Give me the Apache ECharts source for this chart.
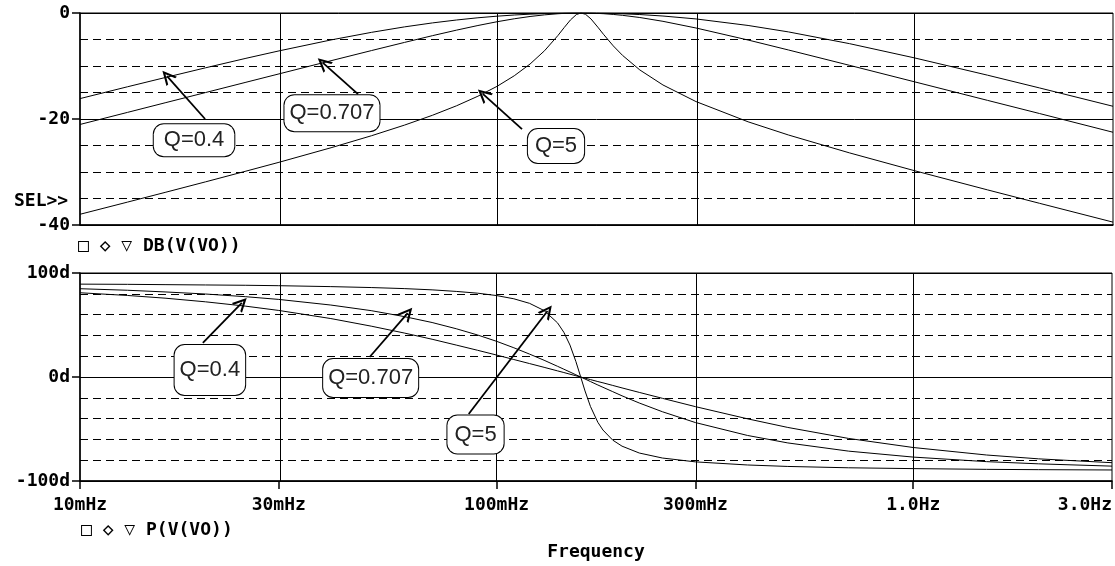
<!DOCTYPE html>
<html><head><meta charset="utf-8">
<script src="https://cdn.jsdelivr.net/npm/echarts@6/dist/echarts.min.js"></script>
<style>html,body{margin:0;padding:0;background:#fff}#c{width:1115px;height:566px}</style>
</head><body><div id="c"></div>
<script>
// ---- data (frequencies in Hz) ----
const freqHz = [0.010,0.013,0.016,0.020,0.025,0.030,0.040,0.050,0.060,0.070,0.080,0.090,
  0.100,0.110,0.120,0.130,0.140,0.145,0.150,0.155,0.159,0.163,0.168,0.175,0.180,0.190,0.200,
  0.220,0.250,0.300,0.400,0.500,0.700,1.000,1.500,2.000,3.000];
const seriesNames = ['Q=0.4','Q=0.707','Q=5'];
// DB(V(VO))
const dbQ04 = [-16.15,-13.92,-12.18,-10.34,-8.55,-7.15,-5.08,-3.65,-2.62,-1.87,-1.32,-0.90,
  -0.60,-0.38,-0.22,-0.11,-0.05,-0.02,-0.01,0,0,0,-0.01,-0.03,-0.04,-0.09,-0.15,
  -0.29,-0.57,-1.12,-2.35,-3.57,-5.78,-8.45,-11.73,-14.14,-17.60];
const dbQ0707 = [-21.03,-18.75,-16.94,-15.01,-13.07,-11.49,-9.00,-7.09,-5.55,-4.28,-3.23,-2.36,
  -1.65,-1.09,-0.66,-0.35,-0.14,-0.07,-0.03,-0.01,0,0,-0.03,-0.08,-0.13,-0.27,-0.44,
  -0.85,-1.57,-2.83,-5.10,-6.98,-9.87,-12.96,-16.48,-18.97,-22.50];
const dbQ5 = [-37.98,-35.68,-33.85,-31.86,-29.84,-28.17,-25.42,-23.16,-21.15,-19.30,-17.50,-15.70,
  -13.84,-11.84,-9.63,-7.12,-4.24,-2.72,-1.31,-0.29,0,-0.24,-1.12,-2.80,-4.02,-6.20,-8.00,
  -10.74,-13.58,-16.71,-20.53,-23.02,-26.39,-29.73,-33.37,-35.91,-39.46];
// P(V(VO)) in degrees
const phQ04 = [81.0,78.4,75.8,72.3,68.1,64.0,56.2,48.9,42.3,36.3,30.7,25.7,
  21.1,16.8,12.9,9.3,5.9,4.3,2.7,1.2,0.0,-1.1,-2.5,-4.4,-5.6,-8.1,-10.5,
  -14.8,-20.5,-28.5,-40.2,-48.5,-59.1,-67.8,-75.0,-78.7,-82.4];
const phQ0707 = [84.9,83.4,81.8,79.8,77.2,74.6,69.2,63.8,58.1,52.4,46.4,40.4,
  34.3,28.1,22.0,16.1,10.3,7.5,4.8,2.1,0.1,-1.9,-4.4,-7.7,-9.9,-14.1,-18.1,
  -25.0,-33.4,-43.8,-56.2,-63.4,-71.3,-77.0,-81.4,-83.5,-85.7];
const phQ5 = [89.3,89.1,88.8,88.5,88.2,87.8,86.9,86.0,85.0,83.8,82.3,80.6,
  78.3,75.2,70.8,63.9,52.1,43.0,30.7,14.8,0.6,-13.4,-28.4,-43.6,-51.0,-60.7,-66.5,
  -73.1,-77.9,-81.6,-84.6,-86.0,-87.3,-88.1,-88.8,-89.1,-89.4];
// axis ticks
const tickFreqs = [0.01,0.03,0.1,0.3,1,3];
const tickLabels = ['10mHz','30mHz','100mHz','300mHz','1.0Hz','3.0Hz'];
const gridFreqs = [0.03,0.1,0.3,1];
const dbTitle = '\u25A1 \u25C7 \u25BD DB(V(VO))';
const phTitle = '\u25A1 \u25C7 \u25BD P(V(VO))';
// annotations: label centre, arrow start, arrow tip (freq Hz, value)
const dbNotes = [
  {text:'Q=0.4',   at:[0.01877,-24.0], from:[0.01995,-20.0], to:[0.01617,-11.9], pad:[5,10]},
  {text:'Q=0.707', at:[0.0402,-18.9],  from:[0.04642,-15.3], to:[0.03825,-9.4],  pad:[7,5]},
  {text:'Q=5',     at:[0.1385,-25.1],  from:[0.1148,-21.9],  to:[0.0926,-15.3],  pad:[6,7]}
];
const phNotes = [
  {text:'Q=0.4',   at:[0.0205,6.7],    from:[0.01972,32.7],  to:[0.02446,71.2],  pad:[14,5]},
  {text:'Q=0.707', at:[0.04985,-1.0],  from:[0.04958,19.2],  to:[0.06117,61.5],  pad:[8,5]},
  {text:'Q=5',     at:[0.0890,-55.3],  from:[0.0857,-35.6],  to:[0.1325,63.5],   pad:[8,7]}
];

// ---- build ----
const X = f => Math.log10(f);
const pts = ys => freqHz.map((f, i) => [X(f), ys[i]]);
const MONO = '"DejaVu Sans Mono", "Liberation Mono", monospace';
const axisFont = {fontFamily: MONO, fontWeight: 'bold', fontSize: 18, color: '#000'};
const labelFor = v => {
  for (let i = 0; i < tickFreqs.length; i++) if (Math.abs(X(tickFreqs[i]) - v) < 1e-6) return tickLabels[i];
  return '';
};
const chevron = 'path://M0,12 L6,0 L12,12 L10,12 L6,4 L2,12 Z';

function notesMarkers(notes) {
  return {
    markLine: {
      silent: true, animation: false,
      symbol: ['none', chevron], symbolSize: 14,
      label: {show: false},
      lineStyle: {color: '#000', width: 1.8, type: 'solid'},
      emphasis: {disabled: true},
      data: notes.map(n => [{coord: [X(n.from[0]), n.from[1]]}, {coord: [X(n.to[0]), n.to[1]]}])
    },
    markPoint: {
      silent: true, animation: false,
      symbol: 'circle', symbolSize: 1,
      itemStyle: {color: 'rgba(0,0,0,0)'},
      label: {
        show: true, position: 'inside', formatter: '{b}',
        fontFamily: '"Liberation Sans", Arial, sans-serif', fontSize: 22, color: '#222',
        backgroundColor: '#fff', borderColor: '#000', borderWidth: 1, borderRadius: 10
      },
      data: notes.map(n => ({name: n.text, coord: [X(n.at[0]), n.at[1]], label: {padding: n.pad}}))
    }
  };
}
function gridMarkLine() {
  return {
    silent: true, animation: false, symbol: 'none', label: {show: false},
    lineStyle: {color: '#000', width: 1, type: 'solid'}, emphasis: {disabled: true},
    data: gridFreqs.map(f => ({xAxis: X(f)}))
  };
}
function makeSeries(gi, arrays, notes) {
  return arrays.map((ys, k) => {
    const s = {
      name: seriesNames[k], type: 'line', xAxisIndex: gi, yAxisIndex: gi,
      data: pts(ys), showSymbol: false, symbol: 'none', animation: false, silent: true,
      lineStyle: {color: '#000', width: 1}, z: 3
    };
    if (k === 0) s.markLine = gridMarkLine();
    if (k === 2) Object.assign(s, notesMarkers(notes));
    return s;
  });
}
function xAxis(gi, bottom) {
  return {
    type: 'value', gridIndex: gi,
    min: X(tickFreqs[0]), max: X(tickFreqs[tickFreqs.length - 1]),
    axisLine: {show: true, onZero: false, lineStyle: {color: '#000', width: 1.5}},
    axisTick: {show: bottom, length: 8, customValues: tickFreqs.map(X), lineStyle: {color: '#000', width: 1.5}},
    axisLabel: Object.assign({show: bottom, customValues: tickFreqs.map(X), formatter: labelFor, margin: 15,
      alignMinLabel: 'center', alignMaxLabel: 'right'}, axisFont),
    splitLine: {show: false},
    name: bottom ? 'Frequency' : '', nameLocation: 'middle', nameGap: 62,
    nameTextStyle: axisFont
  };
}
function yAxis(gi, min, max, interval, minorSplit, fmt) {
  return {
    type: 'value', gridIndex: gi, min: min, max: max, interval: interval,
    axisLine: {show: true, onZero: false, lineStyle: {color: '#000', width: 1.5}},
    axisTick: {show: true, length: 8, lineStyle: {color: '#000', width: 1.5}},
    axisLabel: Object.assign({margin: 10, formatter: fmt}, axisFont),
    splitLine: {show: true, lineStyle: {color: '#000', width: 1}},
    minorTick: {show: false, splitNumber: minorSplit},
    minorSplitLine: {show: true, lineStyle: {color: '#000', width: 1, type: [8, 5]}}
  };
}

const chart = echarts.init(document.getElementById('c'), null, {renderer: 'canvas'});
chart.setOption({
  backgroundColor: '#fff',
  animation: false,
  grid: [
    {left: 80, right: 2, top: 13, height: 212, show: true, borderColor: '#000', borderWidth: 1},
    {left: 80, right: 2, top: 273, height: 208, show: true, borderColor: '#000', borderWidth: 1}
  ],
  xAxis: [xAxis(0, false), xAxis(1, true)],
  yAxis: [
    yAxis(0, -40, 0, 20, 4, v => String(v)),
    yAxis(1, -100, 100, 100, 5, v => v + 'd')
  ],
  series: [].concat(
    makeSeries(0, [dbQ04, dbQ0707, dbQ5], dbNotes),
    makeSeries(1, [phQ04, phQ0707, phQ5], phNotes)
  ),
  graphic: [
    {type: 'text', left: 14, top: 192, style: {text: 'SEL>>', font: 'bold 18px ' + MONO, fill: '#000'}},
    {type: 'text', left: 78, top: 237, style: {text: dbTitle, font: 'bold 18px ' + MONO, fill: '#000'}},
    {type: 'text', left: 81, top: 521, style: {text: phTitle, font: 'bold 18px ' + MONO, fill: '#000'}}
  ]
});
</script></body></html>
